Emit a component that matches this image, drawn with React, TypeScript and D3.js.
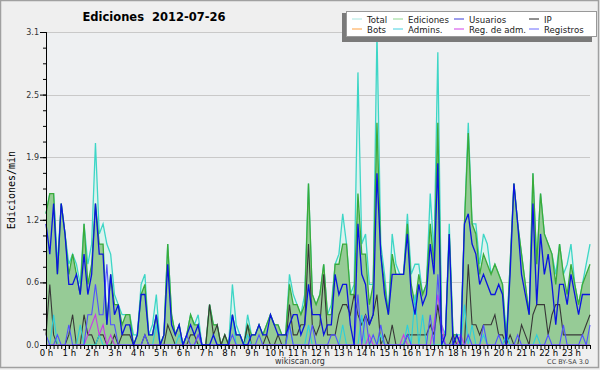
import React, { useEffect, useRef } from 'react';
import * as d3 from 'd3';

// one value every 10 minutes, 00:00 .. 23:50 (edits per minute)
const total = [
  1.3, 1.5, 1.5, 0.8, 1.4, 1.1, 0.8, 0.9, 0.8, 0.6, 1.2, 0.8,
  1.0, 2.0, 1.1, 1.2, 1.0, 0.9, 0.5, 0.4, 0.3, 0.3, 0.3, 0.1,
  0.1, 0.6, 0.7, 0.1, 0.2, 0.5, 0, 0.1, 1.0, 0.3, 0.1, 0.2,
  0, 0.1, 0.3, 0.2, 0.3, 0, 0, 0.4, 0.2, 0.2, 0, 0.1,
  0, 0.6, 0.2, 0.1, 0, 0.3, 0.1, 0.1, 0.2, 0.1, 0.2, 0.3,
  0.2, 0.2, 0.1, 0.1, 0.7, 0.5, 0.4, 0.3, 0.5, 1.6, 0.5, 0.4,
  0.5, 0.8, 0.3, 0.4, 0.8, 0.9, 1.3, 1.0, 0.5, 0.6, 2.7, 1.0,
  1.1, 0.6, 0.6, 3.1, 1.0, 0.7, 0.3, 1.1, 0.8, 0.7, 0.7, 1.3,
  0.7, 0.8, 0.8, 0.5, 0.6, 1.5, 0.9, 2.9, 0.2, 0.1, 1.2, 0.1,
  0.1, 0.1, 1.2, 2.2, 1.2, 1.2, 0.8, 1.1, 1.0, 0.7, 0.8, 0.7,
  0.6, 0.1, 0.8, 1.6, 1.2, 0.9, 0.6, 0.3, 1.7, 0.8, 1.5, 1.1,
  1.0, 0.9, 0.7, 1.0, 0.7, 0.8, 1.0, 0.6, 0.4, 0.6, 0.8, 1.0,
];

const ediciones = [
  1.3, 1.5, 1.5, 0.7, 1.4, 1.1, 0.7, 0.9, 0.7, 0.5, 1.2, 0.6,
  0.8, 1.4, 1.0, 1.0, 0.2, 0.7, 0.4, 0.4, 0.2, 0.3, 0.3, 0,
  0.1, 0.5, 0.6, 0.1, 0.1, 0.3, 0, 0.1, 1.0, 0.3, 0.1, 0.2,
  0, 0.1, 0.3, 0.2, 0.2, 0, 0, 0.4, 0.2, 0.2, 0, 0.1,
  0, 0.3, 0.1, 0.1, 0, 0.2, 0.1, 0.1, 0.2, 0.1, 0.2, 0.3,
  0.2, 0.2, 0.1, 0.1, 0.6, 0.4, 0.4, 0.3, 0.4, 1.6, 0.5, 0.4,
  0.5, 0.8, 0.3, 0.3, 0.8, 0.8, 1.0, 1.0, 0.5, 0.5, 1.5, 0.9,
  0.9, 0.4, 0.6, 2.2, 0.9, 0.6, 0.3, 0.9, 0.7, 0.7, 0.7, 1.2,
  0.6, 0.4, 0.7, 0.5, 0.6, 1.2, 0.8, 2.2, 0.1, 0.1, 1.1, 0.1,
  0.1, 0, 1.2, 2.1, 1.2, 1.1, 0.7, 0.9, 0.8, 0.7, 0.8, 0.7,
  0.6, 0, 0.8, 1.6, 1.2, 0.9, 0.6, 0.3, 1.7, 0.8, 1.5, 1.1,
  1.0, 0.9, 0.6, 1.0, 0.7, 0.5, 0.8, 0.6, 0.4, 0.6, 0.7, 0.8,
];

const usuarios = [
  1.2, 0.9, 1.4, 0.7, 1.4, 1.1, 0.6, 0.6, 0.7, 0.5, 0.9, 0.5,
  0.7, 1.4, 0.9, 0.9, 0.2, 0.7, 0.3, 0.4, 0.1, 0.2, 0.2, 0,
  0.1, 0.5, 0.5, 0.1, 0.1, 0.3, 0, 0.1, 0.8, 0.2, 0.1, 0.2,
  0, 0.1, 0.2, 0.1, 0.2, 0, 0, 0, 0.1, 0, 0, 0,
  0, 0.3, 0.1, 0.1, 0, 0, 0.1, 0.1, 0.2, 0.1, 0.1, 0.3,
  0.2, 0.1, 0.1, 0.1, 0.2, 0.3, 0.3, 0.1, 0.2, 0.6, 0.3, 0.3,
  0.3, 0.1, 0.2, 0.2, 0.7, 0.5, 0.6, 0.6, 0.2, 0, 1.2, 0.7,
  0.6, 0.2, 0.3, 1.7, 0.9, 0.5, 0.3, 0.7, 0.7, 0.7, 0.7, 1.1,
  0.5, 0.3, 0.6, 0.4, 0.5, 1.0, 0.7, 1.8, 0, 0.1, 1.1, 0,
  0.1, 0, 1.2, 1.3, 1.0, 0.9, 0.6, 0.7, 0.6, 0.5, 0.5, 0.6,
  0.5, 0, 0.7, 1.6, 1.2, 0.7, 0.5, 0.3, 1.4, 0.4, 1.1, 0.7,
  0.9, 0.6, 0.2, 0.6, 0.6, 0.4, 0.7, 0.5, 0.3, 0.5, 0.5, 0.5,
];

const ip = [
  0.1, 0.6, 0.1, 0, 0, 0, 0.1, 0.3, 0, 0, 0.3, 0.1,
  0.1, 0, 0.1, 0.1, 0, 0, 0.1, 0, 0.1, 0.1, 0.1, 0,
  0, 0, 0.1, 0, 0, 0, 0, 0, 0.2, 0.1, 0, 0,
  0, 0, 0.1, 0.1, 0, 0, 0, 0.4, 0.1, 0.2, 0, 0.1,
  0, 0, 0, 0, 0, 0.2, 0, 0, 0, 0, 0.1, 0,
  0, 0.1, 0, 0, 0.4, 0.1, 0.1, 0.2, 0.2, 1.0, 0.2, 0.1,
  0.2, 0.7, 0.1, 0.1, 0.1, 0.3, 0.4, 0.4, 0.3, 0.5, 0.3, 0.2,
  0.3, 0.2, 0.3, 0.5, 0, 0.1, 0, 0.2, 0, 0, 0, 0.1,
  0.1, 0.1, 0.1, 0.1, 0.1, 0.2, 0.1, 0.4, 0.1, 0, 0, 0.1,
  0, 0, 0, 0.8, 0.2, 0.2, 0.1, 0.2, 0.2, 0.2, 0.3, 0.1,
  0.1, 0, 0.1, 0, 0, 0.2, 0.1, 0, 0.3, 0.4, 0.4, 0.4,
  0.1, 0.3, 0.4, 0.4, 0.1, 0.1, 0.1, 0.1, 0.1, 0.1, 0.2, 0.3,
];

const admins = [
  0, 0, 0.3, 0, 0, 0, 0, 0, 0, 0.2, 0, 0,
  0, 0, 0.1, 0, 0, 0, 0, 0, 0, 0, 0, 0,
  0, 0, 0, 0, 0, 0.2, 0, 0, 0, 0, 0, 0.1,
  0, 0, 0, 0, 0, 0, 0, 0, 0, 0, 0, 0,
  0, 0.3, 0, 0, 0, 0.1, 0, 0, 0, 0, 0, 0,
  0, 0, 0, 0, 0.2, 0, 0, 0, 0, 0.2, 0, 0,
  0, 0, 0, 0, 0, 0, 0.2, 0, 0, 0, 0, 0.3,
  0, 0, 0, 0, 0.1, 0, 0, 0, 0, 0, 0, 0.2,
  0, 0.5, 0, 0.3, 0, 0, 0, 0, 0, 0, 0, 0,
  0, 0, 0.4, 0, 0.2, 0, 0, 0.1, 0, 0, 0, 0,
  0, 0.1, 0, 0, 0, 0, 0, 0, 0, 0.1, 0, 0,
  0, 0, 0, 0, 0, 0, 0, 0, 0, 0, 0, 0,
];

const registros = [
  0.1, 0, 0, 0.1, 0, 0, 0.2, 0, 0, 0, 0, 0.3,
  0.3, 0.6, 0.3, 0.3, 0.8, 0.2, 0.2, 0, 0, 0, 0, 0,
  0, 0, 0.1, 0, 0, 0, 0, 0, 0, 0, 0, 0,
  0, 0.1, 0, 0, 0.1, 0, 0, 0, 0, 0, 0, 0,
  0, 0.1, 0, 0, 0, 0, 0, 0, 0.1, 0, 0, 0,
  0, 0, 0, 0, 0.2, 0, 0, 0, 0, 0, 0.2, 0,
  0, 0, 0, 0.1, 0.1, 0, 0, 0, 0, 0, 0.5, 0,
  0.3, 0, 0.1, 0, 0.2, 0, 0, 0, 0, 0, 0, 0.1,
  0, 0, 0, 0, 0, 0.3, 0, 0.7, 0.1, 0, 0, 0,
  0, 0, 0, 0.1, 0, 0, 0, 0.2, 0, 0, 0, 0.1,
  0, 0, 0, 0, 0.1, 0, 0, 0, 0, 0, 0, 0,
  0.1, 0, 0, 0, 0.2, 0, 0, 0, 0, 0.1, 0, 0.2,
];

const regAdm = [
  0, 0, 0, 0, 0, 0, 0, 0, 0, 0, 0, 0.1,
  0.2, 0.3, 0.1, 0.2, 0, 0.1, 0, 0, 0, 0, 0, 0,
  0, 0, 0, 0, 0, 0, 0, 0, 0, 0, 0, 0,
  0, 0, 0, 0, 0.1, 0, 0, 0, 0, 0, 0, 0,
  0, 0, 0, 0, 0, 0, 0, 0, 0, 0, 0, 0,
  0, 0, 0, 0, 0, 0, 0, 0, 0, 0, 0, 0,
  0, 0, 0, 0, 0, 0, 0, 0, 0, 0, 0, 0,
  0, 0.1, 0, 0, 0, 0, 0, 0, 0, 0, 0.1, 0,
  0, 0, 0, 0, 0, 0, 0.2, 0.5, 0.2, 0, 0, 0,
  0, 0.1, 0, 0, 0, 0, 0, 0, 0, 0, 0, 0,
  0, 0, 0, 0, 0, 0, 0, 0, 0, 0, 0, 0,
  0, 0, 0, 0, 0, 0, 0, 0, 0, 0, 0, 0,
];

const hourLabels = [
  '0 h', '1 h', '2 h', '3 h', '4 h', '5 h', '6 h', '7 h', '8 h', '9 h', '10 h', '11 h',
  '12 h', '13 h', '14 h', '15 h', '16 h', '17 h', '18 h', '19 h', '20 h', '21 h', '22 h', '23 h',
];
const yTicks = [0, 0.62, 1.24, 1.86, 2.48, 3.1];

const legendItems = [
  { name: 'Total', color: '#a8e6e0' },
  { name: 'Ediciones', color: '#8fd68f' },
  { name: 'Usuarios', color: '#3a3ad8' },
  { name: 'IP', color: '#222222' },
  { name: 'Bots', color: '#ffa040' },
  { name: 'Admins.', color: '#44d0e0' },
  { name: 'Reg. de adm.', color: '#d040e8' },
  { name: 'Registros', color: '#6a6aff' },
];

const FONT = 'DejaVu Sans, sans-serif';

const App = () => {
  const svgRef = useRef<SVGSVGElement>(null);

  useEffect(() => {
    const svg = d3.select(svgRef.current);
    svg.selectAll('*').remove();

    const x = d3.scaleLinear().domain([0, 143]).range([46, 590]);
    const y = d3.scaleLinear().domain([0, 3.1]).range([345, 32]);

    svg.append('rect').attr('x', 0).attr('y', 0).attr('width', 600).attr('height', 370).attr('fill', '#efefef');
    svg.append('rect').attr('x', 0.5).attr('y', 0.5).attr('width', 598).attr('height', 367)
      .attr('fill', 'none').attr('stroke', '#a0a0a0').attr('stroke-width', 1.5);

    // plot background + grid
    svg.append('rect').attr('x', 46).attr('y', 32).attr('width', 544).attr('height', 313).attr('fill', '#eef0f2');
    svg.append('g').selectAll('line').data(yTicks.slice(1)).join('line')
      .attr('x1', 46).attr('x2', 590)
      .attr('y1', d => Math.round(y(d)) + 0.5).attr('y2', d => Math.round(y(d)) + 0.5)
      .attr('stroke', '#c9c9c9').attr('stroke-width', 1);

    const idx = total.map((_, i) => i);
    const area = (vals: number[]) => d3.area<number>().x(i => x(i)).y0(y(0)).y1(i => y(vals[i]))(idx);
    const line = (vals: number[]) => d3.line<number>().x(i => x(i)).y(i => y(vals[i]))(idx);

    svg.append('path').attr('d', area(total)).attr('fill', '#dcf2ee');
    svg.append('path').attr('d', line(total)).attr('fill', 'none').attr('stroke', '#3dd6c6').attr('stroke-width', 1.3);
    svg.append('path').attr('d', area(ediciones)).attr('fill', '#96cb96');
    svg.append('path').attr('d', line(ediciones)).attr('fill', 'none').attr('stroke', '#3aab3a').attr('stroke-width', 1.3);

    const lines: [number[], string, number][] = [
      [ip, '#383838', 1.1],
      [admins, '#2ccfdc', 1.1],
      [regAdm, '#c83ae8', 1.1],
      [registros, '#5050ff', 1.1],
      [usuarios, '#0a14e0', 1.3],
    ];
    lines.forEach(([vals, color, w]) => {
      svg.append('path').attr('d', line(vals)).attr('fill', 'none').attr('stroke', color).attr('stroke-width', w);
    });

    // y axis
    const yAxis = svg.append('g').attr('transform', 'translate(46,0)');
    yAxis.call(d3.axisLeft(y).tickValues(d3.range(0, 3.11, 0.155)).tickSize(3).tickFormat(() => ''));
    yAxis.append('g').call(d3.axisLeft(y).tickValues(yTicks).tickSize(6).tickPadding(1).tickFormat(d3.format('.1f')));
    yAxis.selectAll('path').attr('stroke', '#000');
    yAxis.selectAll('text').attr('font-family', FONT).attr('font-size', 8).attr('fill', '#333');

    // x axis
    const xAxis = svg.append('g').attr('transform', 'translate(0,345)');
    xAxis.call(d3.axisBottom(x).tickValues(idx).tickSize(4).tickFormat(() => '').tickSizeOuter(0));
    xAxis.append('g').call(d3.axisBottom(x).tickValues(hourLabels.map((_, h) => h * 6)).tickSize(4).tickPadding(1)
      .tickFormat((d) => hourLabels[(d as number) / 6]));
    xAxis.selectAll('text').attr('font-family', FONT).attr('font-size', 8.5).attr('fill', '#000');

    svg.append('text').attr('x', 15).attr('y', 190).attr('transform', 'rotate(-90,15,190)')
      .attr('text-anchor', 'middle').attr('font-family', 'DejaVu Sans Mono, monospace').attr('font-size', 10)
      .text('Ediciones/min');

    svg.append('text').attr('x', 154).attr('y', 21).attr('text-anchor', 'middle')
      .attr('font-family', FONT).attr('font-weight', 'bold').attr('font-size', 11.5)
      .text('Ediciones\u00a0 2012-07-26');

    svg.append('text').attr('x', 300).attr('y', 364).attr('text-anchor', 'middle')
      .attr('font-family', FONT).attr('font-size', 8).attr('fill', '#333').text('wikiscan.org');
    svg.append('text').attr('x', 589).attr('y', 364).attr('text-anchor', 'end')
      .attr('font-family', FONT).attr('font-size', 6.5).attr('fill', '#444').text('CC BY-SA 3.0');

    // legend
    const lg = svg.append('g');
    lg.append('rect').attr('x', 342).attr('y', 13).attr('width', 250).attr('height', 29).attr('fill', '#7a7a7a');
    lg.append('rect').attr('x', 346.5).attr('y', 11.5).attr('width', 250).attr('height', 25)
      .attr('fill', '#fff').attr('stroke', '#999');
    const colX = [352, 393, 454, 529];
    legendItems.forEach((d, k) => {
      const cx = colX[k % 4];
      const cy = k < 4 ? 19 : 29;
      lg.append('line').attr('x1', cx).attr('x2', cx + 10).attr('y1', cy).attr('y2', cy)
        .attr('stroke', d.color).attr('stroke-width', 1);
      lg.append('text').attr('x', cx + 15).attr('y', cy + 3.5).attr('font-family', FONT).attr('font-size', 8.6)
        .attr('fill', '#222').text(d.name);
    });
  }, []);

  return (
    <div style={{ position: 'absolute', left: 0, top: 0 }}>
      <svg ref={svgRef} width={600} height={370} style={{ display: 'block' }} />
    </div>
  );
};

export default App;
